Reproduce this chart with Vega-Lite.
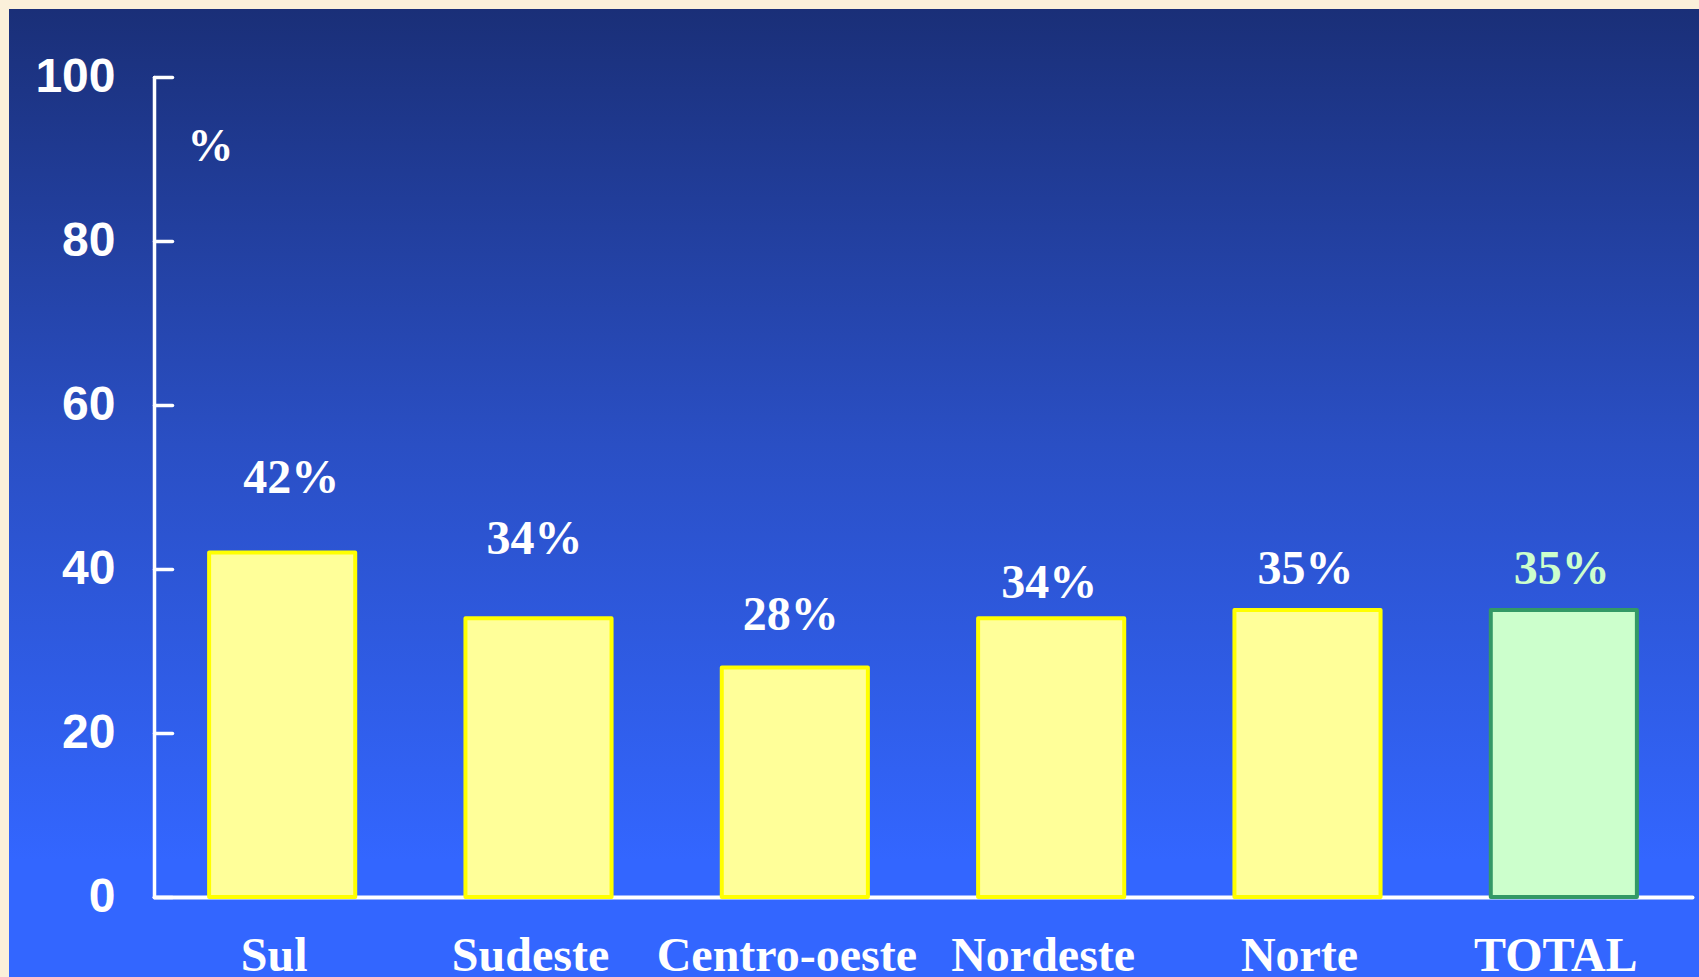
{
  "$schema": "https://vega.github.io/schema/vega-lite/v6.json",
  "width": 1690,
  "height": 968,
  "autosize": {"type": "none"},
  "padding": {"left": 9, "top": 9, "right": 0, "bottom": 0},
  "background": "#fbf0da",
  "config": {
    "view": {
      "stroke": null,
      "fill": {
        "gradient": "linear",
        "x1": 0, "y1": 0, "x2": 0, "y2": 1,
        "stops": [
          {"offset": 0, "color": "#1a2f78"},
          {"offset": 0.45, "color": "#2a4fc4"},
          {"offset": 0.88, "color": "#3366ff"},
          {"offset": 1, "color": "#3366ff"}
        ]
      }
    }
  },
  "data": {
    "values": [
      {"region": "Sul", "pct": 42, "label": "42%"},
      {"region": "Sudeste", "pct": 34, "label": "34%"},
      {"region": "Centro-oeste", "pct": 28, "label": "28%"},
      {"region": "Nordeste", "pct": 34, "label": "34%"},
      {"region": "Norte", "pct": 35, "label": "35%"},
      {"region": "TOTAL", "pct": 35, "label": "35%"}
    ]
  },
  "encoding": {
    "x": {
      "field": "region",
      "type": "nominal",
      "sort": null,
      "scale": {"range": [145, 1683], "paddingInner": 0.43, "paddingOuter": 0.215},
      "axis": {
        "title": null,
        "orient": "bottom",
        "offset": -80,
        "domain": true,
        "domainColor": "white",
        "domainWidth": 4,
        "domainCap": "round",
        "ticks": false,
        "grid": false,
        "labelAngle": 0,
        "labelLimit": 0,
        "labelOverlap": false,
        "labelFont": "Liberation Serif",
        "labelFontWeight": "bold",
        "labelFontSize": 48,
        "labelColor": "white",
        "labelBaseline": "alphabetic",
        "labelPadding": 73,
        "labelOffset": -8
      }
    },
    "y": {
      "field": "pct",
      "type": "quantitative",
      "scale": {"domain": [0, 100], "range": [888, 68], "nice": false, "zero": true},
      "axis": {
        "title": "%",
        "titleAngle": 0,
        "titleX": 33,
        "titleY": 151,
        "titleAlign": "left",
        "titleBaseline": "alphabetic",
        "titleFont": "Liberation Serif",
        "titleFontSize": 46,
        "titleFontWeight": "bold",
        "titleColor": "white",
        "offset": -145,
        "values": [0, 20, 40, 60, 80, 100],
        "grid": false,
        "domainColor": "white",
        "domainWidth": 3.5,
        "domainCap": "round",
        "tickColor": "white",
        "tickWidth": 3.5,
        "tickSize": -18,
        "tickCap": "round",
        "labelFont": "Liberation Sans",
        "labelFontWeight": "bold",
        "labelFontSize": 48,
        "labelColor": "white",
        "labelPadding": 57,
        "labelBaseline": "middle"
      }
    }
  },
  "layer": [
    {
      "mark": {"type": "bar", "strokeWidth": 4, "strokeJoin": "round"},
      "encoding": {
        "fill": {"condition": {"test": "datum.region === 'TOTAL'", "value": "#ccffcc"}, "value": "#ffff99"},
        "stroke": {"condition": {"test": "datum.region === 'TOTAL'", "value": "#339966"}, "value": "#ffff00"}
      }
    },
    {
      "transform": [{"filter": "datum.region === 'Sul'"}],
      "mark": {"type": "text", "font": "Liberation Serif", "fontWeight": "bold", "fontSize": 48, "baseline": "alphabetic", "align": "center", "dy": -60, "dx": 9, "color": "white"},
      "encoding": {"text": {"field": "label"}}
    },
    {
      "transform": [{"filter": "datum.region === 'Sudeste'"}],
      "mark": {"type": "text", "font": "Liberation Serif", "fontWeight": "bold", "fontSize": 48, "baseline": "alphabetic", "align": "center", "dy": -64, "dx": -4, "color": "white"},
      "encoding": {"text": {"field": "label"}}
    },
    {
      "transform": [{"filter": "datum.region === 'Centro-oeste'"}],
      "mark": {"type": "text", "font": "Liberation Serif", "fontWeight": "bold", "fontSize": 48, "baseline": "alphabetic", "align": "center", "dy": -37, "dx": -4, "color": "white"},
      "encoding": {"text": {"field": "label"}}
    },
    {
      "transform": [{"filter": "datum.region === 'Nordeste'"}],
      "mark": {"type": "text", "font": "Liberation Serif", "fontWeight": "bold", "fontSize": 48, "baseline": "alphabetic", "align": "center", "dy": -20, "dx": -2, "color": "white"},
      "encoding": {"text": {"field": "label"}}
    },
    {
      "transform": [{"filter": "datum.region === 'Norte' || datum.region === 'TOTAL'"}],
      "mark": {"type": "text", "font": "Liberation Serif", "fontWeight": "bold", "fontSize": 48, "baseline": "alphabetic", "align": "center", "dy": -26, "dx": -2},
      "encoding": {
        "text": {"field": "label"},
        "color": {"condition": {"test": "datum.region === 'TOTAL'", "value": "#ccffcc"}, "value": "white"}
      }
    }
  ]
}
